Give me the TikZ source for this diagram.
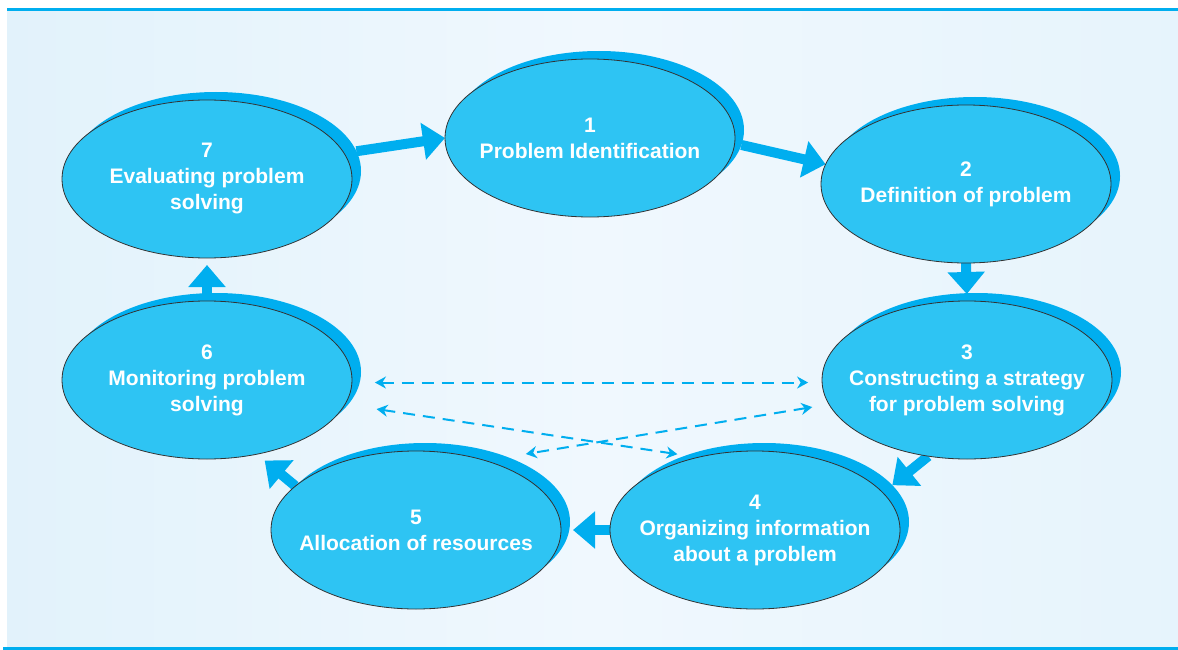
\documentclass[tikz,border=0pt]{standalone}
\usepackage{fontspec}
\setmainfont{Liberation Sans}
\usetikzlibrary{shapes.geometric,arrows.meta}
\definecolor{cyanfill}{HTML}{2EC4F3}
\definecolor{deepcyan}{HTML}{00AEEF}
\definecolor{panelL}{HTML}{E2F2FB}
\definecolor{panelM}{HTML}{F0F8FE}
\pgfdeclarelayer{panel}
\pgfdeclarelayer{links}
\pgfsetlayers{panel,links,main}

% one stage: a darker back ellipse, the outlined ellipse and its caption
\newcommand\stagenode[4]{%
  \node[backell] (s#1) at (#2+9,#3-8) {};
  \node[stageell] (e#1) at (#2,#3) {};
  \node[stagetext] (t#1) at (e#1) {#4};
}

\begin{document}
\begin{tikzpicture}[x=1pt,y=-1pt,
  backell/.style={ellipse, fill=deepcyan, minimum width=290pt, minimum height=158pt, inner sep=0pt, outer sep=0pt},
  stageell/.style={ellipse, fill=cyanfill, draw=black!80, line width=0.8pt, minimum width=290pt, minimum height=158pt, inner sep=0pt, outer sep=0pt},
  stagetext/.style={text=white, font=\bfseries\fontsize{21}{26}\selectfont, align=center, inner sep=0pt},
  flow/.style={deepcyan, line width=10pt, -{Triangle[width=36pt,length=22pt]}},
  link/.style={deepcyan, line width=2pt, dash pattern=on 12pt off 8pt,
    {Stealth[length=11pt,width=12pt]}-{Stealth[length=11pt,width=12pt]}}
]
\useasboundingbox (0,0) rectangle (1178,650);

% panel behind the cycle
\begin{pgfonlayer}{panel}
  \fill[white] (0,0) rectangle (1178,650);
  \shade[left color=panelL, right color=panelL!70!panelM, middle color=panelM] (7,9) rectangle (1178,650);
  \draw[deepcyan, line width=3pt] (7,9.5) -- (1178,9.5);
  \draw[deepcyan, line width=3pt] (3,648.5) -- (1178,648.5);
\end{pgfonlayer}

% the seven stages
\stagenode{1}{590}{138}{1\\Problem Identification}
\stagenode{2}{966}{184}{2\\Definition of problem}
\stagenode{3}{967}{380}{3\\Constructing a strategy\\for problem solving}
\stagenode{4}{755}{530}{4\\Organizing information\\about a problem}
\stagenode{5}{416}{530}{5\\Allocation of resources}
\stagenode{6}{207}{380}{6\\Monitoring problem\\solving}
\stagenode{7}{207}{179}{7\\Evaluating problem\\solving}

% main cycle arrows, tucked under the ellipses
\begin{pgfonlayer}{links}
  \draw[flow] (s7.8) -- (e1.west);
  \draw[flow] (s1.-6) -- (e2.172);
  \draw[flow, shorten >=7pt] (e2.south) -- (e3.north);
  \draw[flow] (e3.243) -- (s4.16);
  \draw[flow, shorten >=12pt] (e4.west) -- (e5.east);
  \draw[flow, shorten >=10pt] (e5.160) -- (e6.-56);
  \draw[flow, shorten >=7pt] (e6.north) -- (e7.south);
\end{pgfonlayer}

% dashed two-way links across the middle
\draw[link, shorten <=23pt, shorten >=14pt] (e6.-1) -- (e3.181);
\draw[link, shorten <=32pt, shorten >=21pt] (e6.-10) -- (e4.128);
\draw[link, shorten <=17pt, shorten >=41pt] (e3.190) -- (e5.45);
\end{tikzpicture}
\end{document}
